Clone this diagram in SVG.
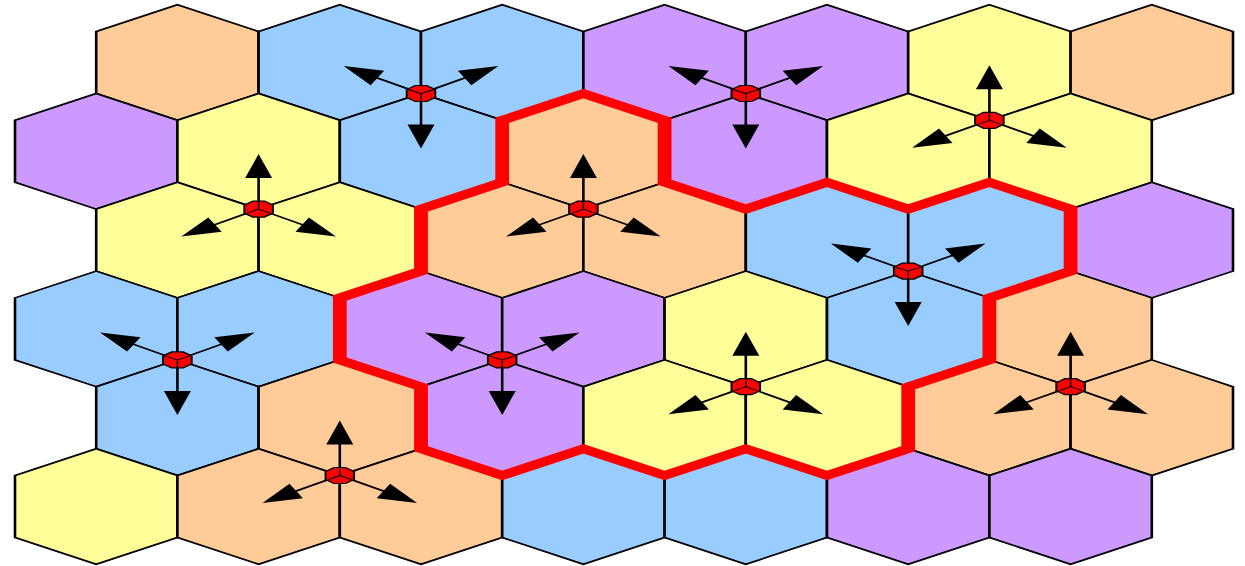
<svg xmlns="http://www.w3.org/2000/svg" xmlns:xlink="http://www.w3.org/1999/xlink" width="1245" height="566" viewBox="0 0 1245 566">
<style>
.h{stroke:#000;stroke-width:1.6;stroke-linejoin:miter}
.o{fill:#FFCC99}.b{fill:#99CCFF}.p{fill:#CC99FF}.y{fill:#FFFF99}
.bd{fill:none;stroke:#FF0000;stroke-width:8.5;stroke-linejoin:miter}
.ar{fill:none;stroke:#000;stroke-width:1.6;marker-end:url(#ah)}
</style>
<defs>
<path id="hx" d="M0,-57.8 L50,-31 L50,31 L0,57.8 L-50,31 L-50,-31 Z"/>
<marker id="ah" markerUnits="userSpaceOnUse" orient="auto" markerWidth="40" markerHeight="40" refX="0" refY="0" style="overflow:visible">
<path d="M5,0 L-19,-8.3 L-19,8.3 Z" fill="#000" stroke="none"/>
</marker>
<g id="bsA">
<polygon points="-3.5,-8 3.5,-8 8.8,-4 8.8,4 3.5,8 -3.5,8 -8.8,4 -8.8,-4" fill="#FF0000" stroke="#000" stroke-width="1.2"/>
<path d="M0,0 L-8,-4 M0,0 L8,-4 M0,0 L0,8" fill="none" stroke="#000" stroke-width="0.9"/>
</g>
<g id="bsB">
<polygon points="-3.5,-8 3.5,-8 8.8,-4 8.8,4 3.5,8 -3.5,8 -8.8,4 -8.8,-4" fill="#FF0000" stroke="#000" stroke-width="1.2"/>
<path d="M0,0 L0,-8 M0,0 L-7,4 M0,0 L7,4" fill="none" stroke="#000" stroke-width="0.9"/>
</g>
</defs>
<rect width="1245" height="566" fill="#fff"/>
<g id="grid" transform="translate(15,0) scale(1.624,1)">
<g id="cells">
<g id="cell-1-1"><use href="#hx" class="h o" x="100" y="62.5"/></g>
<g id="cell-1-2"><use href="#hx" class="h b" x="200" y="62.5"/></g>
<g id="cell-1-3"><use href="#hx" class="h b" x="300" y="62.5"/></g>
<g id="cell-1-4"><use href="#hx" class="h p" x="400" y="62.5"/></g>
<g id="cell-1-5"><use href="#hx" class="h p" x="500" y="62.5"/></g>
<g id="cell-1-6"><use href="#hx" class="h y" x="600" y="62.5"/></g>
<g id="cell-1-7"><use href="#hx" class="h o" x="700" y="62.5"/></g>
<g id="cell-2-1"><use href="#hx" class="h p" x="50" y="151.3"/></g>
<g id="cell-2-2"><use href="#hx" class="h y" x="150" y="151.3"/></g>
<g id="cell-2-3"><use href="#hx" class="h b" x="250" y="151.3"/></g>
<g id="cell-2-4"><use href="#hx" class="h o" x="350" y="151.3"/></g>
<g id="cell-2-5"><use href="#hx" class="h p" x="450" y="151.3"/></g>
<g id="cell-2-6"><use href="#hx" class="h y" x="550" y="151.3"/></g>
<g id="cell-2-7"><use href="#hx" class="h y" x="650" y="151.3"/></g>
<g id="cell-3-1"><use href="#hx" class="h y" x="100" y="240.1"/></g>
<g id="cell-3-2"><use href="#hx" class="h y" x="200" y="240.1"/></g>
<g id="cell-3-3"><use href="#hx" class="h o" x="300" y="240.1"/></g>
<g id="cell-3-4"><use href="#hx" class="h o" x="400" y="240.1"/></g>
<g id="cell-3-5"><use href="#hx" class="h b" x="500" y="240.1"/></g>
<g id="cell-3-6"><use href="#hx" class="h b" x="600" y="240.1"/></g>
<g id="cell-3-7"><use href="#hx" class="h p" x="700" y="240.1"/></g>
<g id="cell-4-1"><use href="#hx" class="h b" x="50" y="328.9"/></g>
<g id="cell-4-2"><use href="#hx" class="h b" x="150" y="328.9"/></g>
<g id="cell-4-3"><use href="#hx" class="h p" x="250" y="328.9"/></g>
<g id="cell-4-4"><use href="#hx" class="h p" x="350" y="328.9"/></g>
<g id="cell-4-5"><use href="#hx" class="h y" x="450" y="328.9"/></g>
<g id="cell-4-6"><use href="#hx" class="h b" x="550" y="328.9"/></g>
<g id="cell-4-7"><use href="#hx" class="h o" x="650" y="328.9"/></g>
<g id="cell-5-1"><use href="#hx" class="h b" x="100" y="417.7"/></g>
<g id="cell-5-2"><use href="#hx" class="h o" x="200" y="417.7"/></g>
<g id="cell-5-3"><use href="#hx" class="h p" x="300" y="417.7"/></g>
<g id="cell-5-4"><use href="#hx" class="h y" x="400" y="417.7"/></g>
<g id="cell-5-5"><use href="#hx" class="h y" x="500" y="417.7"/></g>
<g id="cell-5-6"><use href="#hx" class="h o" x="600" y="417.7"/></g>
<g id="cell-5-7"><use href="#hx" class="h o" x="700" y="417.7"/></g>
<g id="cell-6-1"><use href="#hx" class="h y" x="50" y="506.5"/></g>
<g id="cell-6-2"><use href="#hx" class="h o" x="150" y="506.5"/></g>
<g id="cell-6-3"><use href="#hx" class="h o" x="250" y="506.5"/></g>
<g id="cell-6-4"><use href="#hx" class="h b" x="350" y="506.5"/></g>
<g id="cell-6-5"><use href="#hx" class="h b" x="450" y="506.5"/></g>
<g id="cell-6-6"><use href="#hx" class="h p" x="550" y="506.5"/></g>
<g id="cell-6-7"><use href="#hx" class="h p" x="650" y="506.5"/></g>
</g>
<g id="cluster-border">
<path class="bd" d="M300,120.3 L350,93.5 L400,120.3 L400,182.3 L450,209.1 L500,182.3 L550,209.1 L600,182.3 L650,209.1 L650,271.1 L600,297.9 L600,359.9 L550,386.7 L550,448.7 L500,475.5 L450,448.7 L400,475.5 L350,448.7 L300,475.5 L250,448.7 L250,386.7 L200,359.9 L200,297.9 L250,271.1 L250,209.1 L300,182.3 Z"/>
</g>
<g id="connectors">
<path class="ar" d="M250,93.5 l-43.3,-25"/><path class="ar" d="M250,93.5 l43.3,-25"/><path class="ar" d="M250,93.5 l0,50"/>
<path class="ar" d="M450,93.5 l-43.3,-25"/><path class="ar" d="M450,93.5 l43.3,-25"/><path class="ar" d="M450,93.5 l0,50"/>
<path class="ar" d="M600,120.3 l0,-50"/><path class="ar" d="M600,120.3 l-43.3,25"/><path class="ar" d="M600,120.3 l43.3,25"/>
<path class="ar" d="M150,209.1 l0,-50"/><path class="ar" d="M150,209.1 l-43.3,25"/><path class="ar" d="M150,209.1 l43.3,25"/>
<path class="ar" d="M350,209.1 l0,-50"/><path class="ar" d="M350,209.1 l-43.3,25"/><path class="ar" d="M350,209.1 l43.3,25"/>
<path class="ar" d="M550,271.1 l-43.3,-25"/><path class="ar" d="M550,271.1 l43.3,-25"/><path class="ar" d="M550,271.1 l0,50"/>
<path class="ar" d="M100,359.9 l-43.3,-25"/><path class="ar" d="M100,359.9 l43.3,-25"/><path class="ar" d="M100,359.9 l0,50"/>
<path class="ar" d="M300,359.9 l-43.3,-25"/><path class="ar" d="M300,359.9 l43.3,-25"/><path class="ar" d="M300,359.9 l0,50"/>
<path class="ar" d="M450,386.7 l0,-50"/><path class="ar" d="M450,386.7 l-43.3,25"/><path class="ar" d="M450,386.7 l43.3,25"/>
<path class="ar" d="M650,386.7 l0,-50"/><path class="ar" d="M650,386.7 l-43.3,25"/><path class="ar" d="M650,386.7 l43.3,25"/>
<path class="ar" d="M200,475.5 l0,-50"/><path class="ar" d="M200,475.5 l-43.3,25"/><path class="ar" d="M200,475.5 l43.3,25"/>
</g>
<g id="stations">
<g id="bs-1"><use href="#bsA" x="250" y="93.5"/></g>
<g id="bs-2"><use href="#bsA" x="450" y="93.5"/></g>
<g id="bs-3"><use href="#bsB" x="600" y="120.3"/></g>
<g id="bs-4"><use href="#bsB" x="150" y="209.1"/></g>
<g id="bs-5"><use href="#bsB" x="350" y="209.1"/></g>
<g id="bs-6"><use href="#bsA" x="550" y="271.1"/></g>
<g id="bs-7"><use href="#bsA" x="100" y="359.9"/></g>
<g id="bs-8"><use href="#bsA" x="300" y="359.9"/></g>
<g id="bs-9"><use href="#bsB" x="450" y="386.7"/></g>
<g id="bs-10"><use href="#bsB" x="650" y="386.7"/></g>
<g id="bs-11"><use href="#bsB" x="200" y="475.5"/></g>
</g>
</g>
</svg>
